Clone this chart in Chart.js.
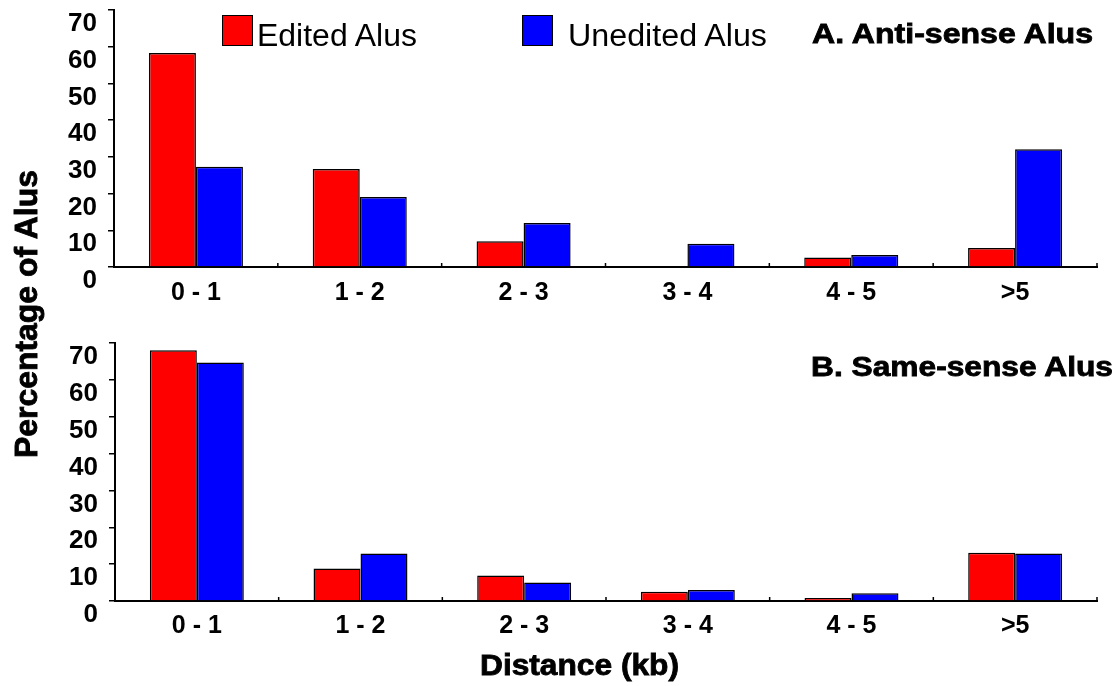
<!DOCTYPE html>
<html>
<head>
<meta charset="utf-8">
<script src="https://cdn.jsdelivr.net/npm/chart.js@4.4.1/dist/chart.umd.min.js"></script>
<style>
  html, body { margin: 0; padding: 0; background: #fff; }
  #wrap { position: relative; width: 1120px; height: 686px; background: #fff; overflow: hidden; }
  .cv { position: absolute; left: 0; width: 1120px; }
  .txt { position: absolute; white-space: nowrap; color: #000; font-family: 'Liberation Sans', Arial, sans-serif; transform-origin: 0 0; }
  .heavy { -webkit-text-stroke: 0.8px #000; }
  .box { position: absolute; box-sizing: border-box; border: 1.5px solid #000; }
</style>
</head>
<body>
<div id="wrap">
  <div class="cv" style="top:0;height:320px;"><canvas id="cA"></canvas></div>
  <div class="cv" style="top:330px;height:320px;"><canvas id="cB"></canvas></div>
</div>
<script>
// ---- data ----
const categories = ['0 - 1', '1 - 2', '2 - 3', '3 - 4', '4 - 5', '>5'];
const antiEdited   = [58.3, 26.7, 7.0, 0, 2.6, 5.2];
const antiUnedited = [27.3, 19.1, 12.0, 6.3, 3.3, 32.1];
const sameEdited   = [68.0, 8.8, 6.9, 2.5, 0.8, 13.1];
const sameUnedited = [64.7, 12.9, 5.0, 3.0, 2.1, 12.9];
const yTickValues  = [0, 10, 20, 30, 40, 50, 60, 70];
const seriesNames  = ['Edited Alus', 'Unedited Alus'];
const RED = '#ff0000', BLUE = '#0000ff';
const FONT = "'Liberation Sans', Arial, sans-serif";

// inward tick marks at category boundaries on x axis
const innerTicks = {
  id: 'innerTicks',
  afterDraw(chart) {
    const s = chart.scales.x, ctx = chart.ctx;
    const n = categories.length;
    ctx.save();
    ctx.strokeStyle = '#000';
    ctx.lineWidth = 1.5;
    for (let i = 1; i <= n; i++) {
      const x = s.left + i * (s.width / n);
      ctx.beginPath();
      ctx.moveTo(x, s.top);
      ctx.lineTo(x, s.top - 4);
      ctx.stroke();
    }
    ctx.restore();
  }
};

function makeChart(id, d1, d2, yWidth, padTop, xHeight, xPad) {
  return new Chart(document.getElementById(id), {
    type: 'bar',
    data: {
      labels: categories,
      datasets: [
        { label: seriesNames[0], data: d1, backgroundColor: RED, borderColor: '#000', borderWidth: 1.5 },
        { label: seriesNames[1], data: d2, backgroundColor: BLUE, borderColor: '#000', borderWidth: 1.5 }
      ]
    },
    options: {
      responsive: true,
      maintainAspectRatio: false,
      animation: false,
      datasets: { bar: { categoryPercentage: 0.574, barPercentage: 1.0 } },
      layout: { padding: { top: padTop, right: 23, left: 0, bottom: 0 } },
      plugins: { legend: { display: false }, tooltip: { enabled: false }, title: { display: false } },
      scales: {
        x: {
          grid: { display: false, drawTicks: false },
          border: { display: true, color: '#000', width: 2 },
          ticks: { color: '#000', padding: xPad, font: { family: FONT, size: 25, weight: 'bold' }, maxRotation: 0, autoSkip: false },
          afterFit(s) { s.height = xHeight; s.paddingLeft = 0; s.paddingRight = 0; }
        },
        y: {
          min: 0, max: 70,
          afterBuildTicks(s) { s.ticks = yTickValues.map(v => ({ value: v })); },
          grid: { display: true, drawOnChartArea: false, drawTicks: true, tickLength: 6, color: '#000', lineWidth: 1.5 },
          border: { display: true, color: '#000', width: 2 },
          ticks: { color: '#000', padding: 11, labelOffset: 14, font: { family: FONT, size: 26, weight: 'bold' } },
          afterFit(s) { s.width = yWidth; s.paddingTop = 0; s.paddingBottom = 0; }
        }
      }
    },
    plugins: [innerTicks]
  });
}

makeChart('cA', antiEdited, antiUnedited, 114, 10, 53, 11);
makeChart('cB', sameEdited, sameUnedited, 115, 13, 49, 10);

// ---- text overlays ----
const wrap = document.getElementById('wrap');
function addText(txt, o) {
  const el = document.createElement('span');
  el.className = 'txt' + (o.heavy ? ' heavy' : '');
  el.textContent = txt;
  el.style.fontSize = o.size + 'px';
  el.style.lineHeight = o.size + 'px';
  el.style.fontWeight = o.weight || 'normal';
  wrap.appendChild(el);
  const w = el.getBoundingClientRect().width;
  const s = o.width ? o.width / w : 1;
  const asc = 0.8465 * o.size;
  if (o.rotate) {
    el.style.left = (o.baseline - asc) + 'px';
    el.style.top = (o.cy + w * s / 2) + 'px';
    el.style.transform = 'rotate(-90deg) scaleX(' + s + ')';
  } else {
    el.style.left = o.x + 'px';
    el.style.top = (o.baseline - asc) + 'px';
    el.style.transform = 'scaleX(' + s + ')';
  }
}
function addBox(x, y, w, h, color) {
  const b = document.createElement('div');
  b.className = 'box';
  b.style.left = x + 'px'; b.style.top = y + 'px';
  b.style.width = w + 'px'; b.style.height = h + 'px';
  b.style.background = color;
  wrap.appendChild(b);
}

addBox(222, 15, 31, 31, RED);
addBox(522, 15, 31, 31, BLUE);
addText(seriesNames[0], { size: 31, x: 257, baseline: 46, width: 160 });
addText(seriesNames[1], { size: 31, x: 568, baseline: 46, width: 199 });
addText('A. Anti-sense Alus', { size: 27, weight: 'bold', heavy: true, x: 812, baseline: 44, width: 281 });
addText('B. Same-sense Alus', { size: 27, weight: 'bold', heavy: true, x: 811, baseline: 377, width: 302 });
addText('Distance (kb)', { size: 29, weight: 'bold', heavy: true, x: 480, baseline: 676, width: 199 });
addText('Percentage of Alus', { size: 32, weight: 'bold', heavy: true, rotate: true, baseline: 37, cy: 314, width: 288 });
</script>
</body>
</html>
